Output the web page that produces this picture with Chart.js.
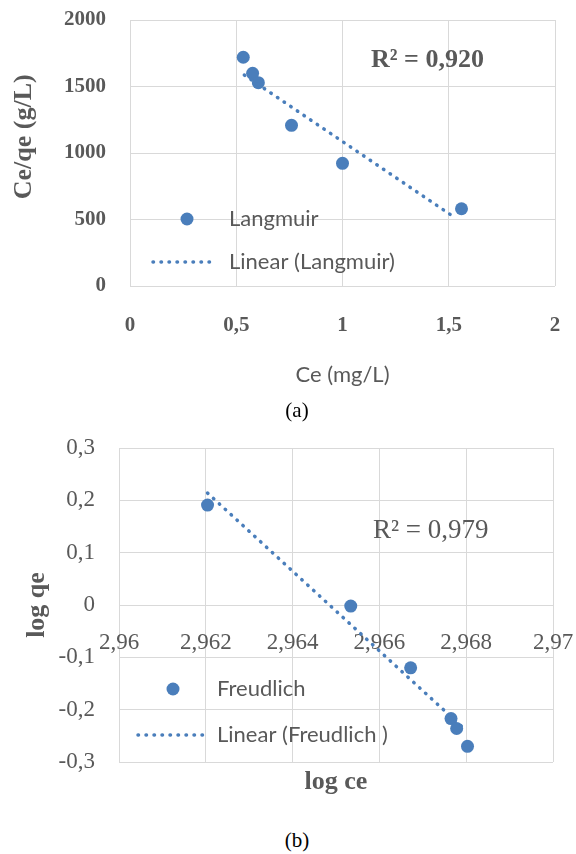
<!DOCTYPE html>
<html>
<head>
<meta charset="utf-8">
<script src="https://cdn.jsdelivr.net/npm/chart.js@4"></script>
<style>
  body { margin: 0; background: #fff; width: 576px; height: 854px; position: relative; overflow: hidden; }
  .box { position: absolute; left: 0; }
  .r2 { position: absolute; font-family: "Liberation Serif", serif; color: #595959; white-space: nowrap; line-height: 1; }
  .cap { position: absolute; font-family: "Liberation Serif", serif; font-size: 21px; color: #000; line-height: 1; transform: translateX(-50%); }
</style>
</head>
<body>
<div class="box" style="top:0"><canvas id="chartA" width="576" height="400"></canvas></div>
<div class="box" style="top:430px"><canvas id="chartB" width="576" height="370"></canvas></div>
<div class="r2" style="left:371px;top:46px;font-size:26px;font-weight:bold">R² = 0,920</div>
<div class="r2" style="left:373px;top:516px;font-size:27px">R² = 0,979</div>
<div class="cap" style="left:297px;top:400px">(a)</div>
<div class="cap" style="left:297px;top:830px">(b)</div>
<script>
// (a) Langmuir
var ceA = [0.533, 0.577, 0.604, 0.760, 1.000, 1.560];
var ceqeA = [1720, 1599, 1529, 1208, 922, 581];
var trendCeA = [0.538, 1.529];
var trendCeqeA = [1586, 514];
var xTicksA = ['0', '0,5', '1', '1,5', '2'];
var yTicksA = ['0', '500', '1000', '1500', '2000'];

// (b) Freundlich
var logCe = [2.96204, 2.96534, 2.96672, 2.96765, 2.96778, 2.96803];
var logQe = [0.191, -0.002, -0.120, -0.217, -0.236, -0.270];
var trendLogCe = [2.96204, 2.96800];
var trendLogQe = [0.214, -0.240];
var xTicksB = ['2,96', '2,962', '2,964', '2,966', '2,968', '2,97'];
var yTicksB = ['-0,3', '-0,2', '-0,1', '0', '0,1', '0,2', '0,3'];

var blue = '#4a7ebb';
var grey = '#595959';
var gridCol = '#d9d9d9';
var serif = 'Liberation Serif';

Chart.defaults.animation = false;

function pts(xs, ys) {
	return xs.map(function(x, i) { return {x: x, y: ys[i]}; });
}

// keep the tick label overhang from shrinking the plot area
function fixX(h) {
	return function(s) {
		if (h) s.height = h;
		s.paddingLeft = 0;
		s.paddingRight = 0;
	};
}
function fixY(w) {
	return function(s) {
		s.width = w;
		s.paddingTop = 0;
		s.paddingBottom = 0;
	};
}

// legend drawn inside the plot area, like the Excel one
function legendPlugin(id, pos) {
	return {
		id: id,
		afterDraw: function(chart) {
			var ctx = chart.ctx;
			var ds = chart.data.datasets;
			ctx.save();
			ctx.fillStyle = blue;
			ctx.beginPath();
			ctx.arc(pos.markX, pos.row1, 6.5, 0, Math.PI * 2);
			ctx.fill();
			ctx.strokeStyle = blue;
			ctx.lineWidth = 3.5;
			ctx.lineCap = 'round';
			ctx.setLineDash([0.5, 7.5]);
			ctx.beginPath();
			ctx.moveTo(pos.lineX0, pos.row2);
			ctx.lineTo(pos.lineX1, pos.row2);
			ctx.stroke();
			ctx.setLineDash([]);
			ctx.fillStyle = grey;
			ctx.font = '22px Lato';
			ctx.textBaseline = 'middle';
			ctx.fillText(ds[1].label, pos.textX, pos.row1);
			ctx.fillText(ds[0].label, pos.textX, pos.row2);
			ctx.restore();
		}
	};
}

chartA = new Chart(document.getElementById('chartA'), {
	type: 'scatter',
	data: {
		datasets: [{
			label: 'Linear (Langmuir)',
			data: pts(trendCeA, trendCeqeA),
			showLine: true,
			borderColor: blue,
			borderWidth: 3.5,
			borderDash: [0.5, 7.5],
			borderCapStyle: 'round',
			pointRadius: 0
		}, {
			label: 'Langmuir',
			data: pts(ceA, ceqeA),
			backgroundColor: blue,
			borderColor: blue,
			pointRadius: 6.5,
			pointBorderWidth: 0
		}]
	},
	options: {
		responsive: false,
		devicePixelRatio: 1,
		layout: {padding: {left: 0, top: 20, right: 21, bottom: 0}},
		plugins: {legend: {display: false}, tooltip: {enabled: false}},
		scales: {
			x: {
				type: 'linear', min: 0, max: 2,
				ticks: {stepSize: 0.5, color: grey, padding: 27, maxRotation: 0, autoSkip: false,
					font: {family: serif, size: 21, weight: 'bold'},
					callback: function(v, i) { return xTicksA[i]; }},
				grid: {color: gridCol, drawTicks: false},
				border: {display: false},
				title: {display: true, text: 'Ce (mg/L)', color: grey, padding: {top: 0, bottom: 12},
					font: {family: 'Lato', size: 22}},
				afterFit: fixX(114)
			},
			y: {
				min: 0, max: 2000,
				ticks: {stepSize: 500, color: grey, padding: 24,
					font: {family: serif, size: 21, weight: 'bold'},
					callback: function(v, i) { return yTicksA[i]; }},
				grid: {color: gridCol, drawTicks: false},
				border: {display: false},
				// leading spaces lift the title a little above the axis middle, as in the original
				title: {display: true, text: '     Ce/qe (g/L)', color: grey, padding: {top: 9, bottom: 0},
					font: {family: serif, size: 26, weight: 'bold'}},
				afterFit: fixY(130)
			}
		}
	},
	plugins: [legendPlugin('legA', {markX: 187, row1: 219, row2: 262, lineX0: 153, lineX1: 217, textX: 229})]
});

chartB = new Chart(document.getElementById('chartB'), {
	type: 'scatter',
	data: {
		datasets: [{
			label: 'Linear (Freudlich )',
			data: pts(trendLogCe, trendLogQe),
			showLine: true,
			borderColor: blue,
			borderWidth: 3.5,
			borderDash: [0.5, 7.5],
			borderCapStyle: 'round',
			pointRadius: 0
		}, {
			label: 'Freudlich',
			data: pts(logCe, logQe),
			backgroundColor: blue,
			borderColor: blue,
			pointRadius: 6.5,
			pointBorderWidth: 0
		}]
	},
	options: {
		responsive: false,
		devicePixelRatio: 1,
		layout: {padding: {left: 0, top: 18, right: 23, bottom: 0}},
		plugins: {legend: {display: false}, tooltip: {enabled: false}},
		scales: {
			x: {
				type: 'linear', min: 2.96, max: 2.97,
				ticks: {stepSize: 0.002, display: false},
				grid: {color: gridCol, drawTicks: false},
				border: {display: false},
				title: {display: true, text: 'log ce', color: grey, padding: {top: 0, bottom: 2},
					font: {family: serif, size: 26, weight: 'bold'}},
				afterFit: fixX(38)
			},
			x2: {
				type: 'linear', axis: 'x', position: {y: 0}, min: 2.96, max: 2.97,
				ticks: {stepSize: 0.002, color: grey, padding: 24, maxRotation: 0, autoSkip: false,
					font: {family: serif, size: 23},
					callback: function(v, i) { return xTicksB[i]; }},
				grid: {display: false, drawTicks: false},
				border: {display: false},
				afterFit: fixX(0)
			},
			y: {
				min: -0.3, max: 0.3,
				ticks: {stepSize: 0.1, color: grey, padding: 24,
					font: {family: serif, size: 23},
					callback: function(v, i) { return yTicksB[i]; }},
				grid: {color: gridCol, drawTicks: false},
				border: {display: false},
				title: {display: true, text: 'log qe', color: grey, padding: {top: 22, bottom: 0},
					font: {family: serif, size: 26, weight: 'bold'}},
				afterFit: fixY(119)
			}
		}
	},
	plugins: [legendPlugin('legB', {markX: 173, row1: 259, row2: 305, lineX0: 138, lineX1: 203, textX: 217})]
});
</script>
</body>
</html>
